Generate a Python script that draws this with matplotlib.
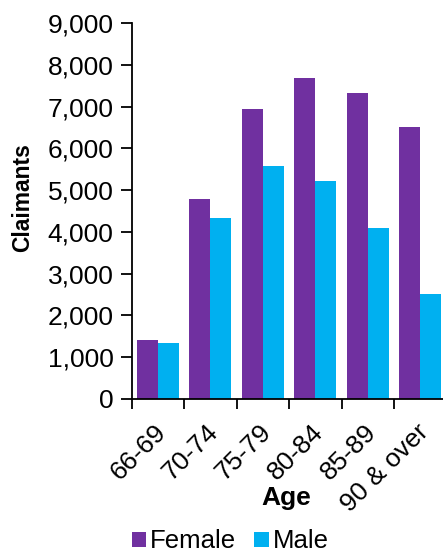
import numpy as np
import matplotlib
matplotlib.use("Agg")
import matplotlib.pyplot as plt
import matplotlib.transforms as mtransforms
from matplotlib.ticker import FuncFormatter

plt.rcParams["font.family"] = ["Liberation Sans", "DejaVu Sans"]

ages = ["66-69", "70-74", "75-79", "80-84", "85-89", "90 & over"]
female = [1410, 4780, 6940, 7690, 7320, 6510]
male = [1350, 4330, 5570, 5220, 4090, 2510]

purple = "#7030A0"
cyan = "#00B0F0"

fig = plt.figure(figsize=(4.43, 5.53), dpi=100)
ax = fig.add_axes([0.297, 0.2785, 0.711, 0.680])

x = np.arange(len(ages))
w = 0.4
ax.bar(x - w / 2, female, width=w, color=purple, label="Female")
ax.bar(x + w / 2, male, width=w, color=cyan, label="Male")

ax.set_xlim(-0.5, len(ages) - 0.5)
ax.set_ylim(0, 9000)
ax.set_yticks(range(0, 9001, 1000))
ax.yaxis.set_major_formatter(FuncFormatter(lambda v, p: f"{int(v):,}"))

# ticks sit between groups, labels at group centres
ax.set_xticks(np.arange(len(ages)) - 0.5)
ax.set_xticklabels([])
ax.set_xticks(x, minor=True)
ax.set_xticklabels(ages, minor=True, rotation=45, ha="right",
                   rotation_mode="anchor", fontsize=19)
ax.tick_params(axis="x", which="minor", length=0, pad=15)
ax.tick_params(axis="x", which="major", length=7, width=1.3)
ax.tick_params(axis="y", length=8, width=1.3, labelsize=19, pad=5)
shift = mtransforms.ScaledTranslation(-4 / 100, 0, fig.dpi_scale_trans)
for lbl in ax.get_xticklabels(minor=True):
    lbl.set_transform(lbl.get_transform() + shift)

for s in ["top", "right"]:
    ax.spines[s].set_visible(False)
for s in ["left", "bottom"]:
    ax.spines[s].set_linewidth(1.3)

ax.set_ylabel("Claimants", fontsize=16.5, fontweight="bold")
ax.yaxis.set_label_coords(-0.31, 0.535)
ax.set_xlabel("Age", fontsize=19, fontweight="bold")
ax.xaxis.set_label_coords(0.49, -0.231)

fig.legend(loc="center", bbox_to_anchor=(0.52, 0.021), ncol=2, frameon=False,
           fontsize=18.5, handlelength=0.55, handleheight=0.55, handletextpad=0.15,
           columnspacing=0.7)

fig.savefig("out.png", dpi=100)
